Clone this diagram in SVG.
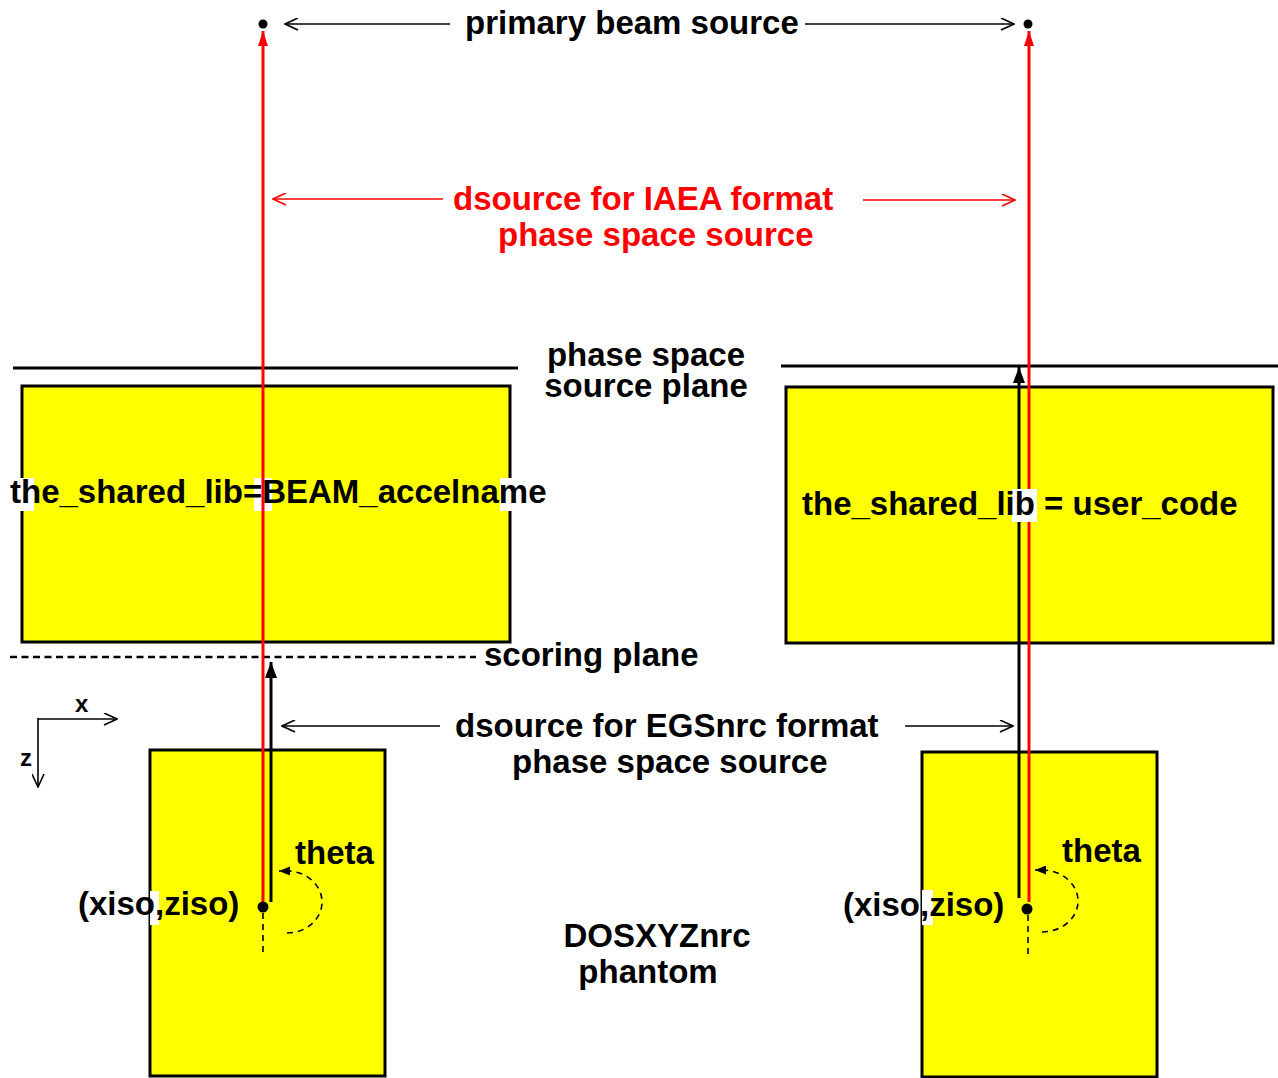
<svg xmlns="http://www.w3.org/2000/svg" width="1278" height="1078" viewBox="0 0 1278 1078">
<style>
  text { font-family: "Liberation Sans", Arial, Helvetica, sans-serif; font-weight: bold; font-size: 33px; fill: #000; }
  .red { fill: #ff0000; }
  .box { fill: #ffff00; stroke: #000; stroke-width: 3; }
  .plane { stroke: #000; stroke-width: 3; fill: none; }
  .thin { stroke: #000; stroke-width: 1.6; fill: none; }
  .thinred { stroke: #ff0000; stroke-width: 1.6; fill: none; }
  .beam { stroke: #ff0000; stroke-width: 3; fill: none; }
  .blk { stroke: #000; stroke-width: 3; fill: none; }
  .dash { stroke: #000; stroke-width: 1.6; fill: none; stroke-dasharray: 6 5; }
  .patch { fill: #fff; }
</style>
<defs>
  <marker id="openK" markerUnits="userSpaceOnUse" viewBox="0 0 15 13" refX="14" refY="6.5" markerWidth="15" markerHeight="13" orient="auto">
    <path d="M1,0.5 L14,6.5 L1,12.5" fill="none" stroke="#000" stroke-width="1.6"/>
  </marker>
  <marker id="openR" markerUnits="userSpaceOnUse" viewBox="0 0 15 13" refX="14" refY="6.5" markerWidth="15" markerHeight="13" orient="auto">
    <path d="M1,0.5 L14,6.5 L1,12.5" fill="none" stroke="#ff0000" stroke-width="1.6"/>
  </marker>
  <marker id="fillK" markerUnits="userSpaceOnUse" viewBox="0 0 16 12" refX="16" refY="6" markerWidth="16" markerHeight="12" orient="auto">
    <path d="M0,0 L16,6 L0,12 z" fill="#000"/>
  </marker>
  <marker id="fillR" markerUnits="userSpaceOnUse" viewBox="0 0 15 10" refX="15" refY="5" markerWidth="15" markerHeight="10" orient="auto">
    <path d="M0,0 L15,5 L0,10 z" fill="#ff0000"/>
  </marker>
  <marker id="fillS" markerUnits="userSpaceOnUse" viewBox="0 0 11 9" refX="11" refY="4.5" markerWidth="11" markerHeight="9" orient="auto">
    <path d="M0,0 L11,4.5 L0,9 z" fill="#000"/>
  </marker>
</defs>

<g id="planes">
  <line class="plane" x1="13" y1="368" x2="518" y2="368"/>
  <line class="plane" x1="781" y1="366" x2="1278" y2="366"/>
  <line x1="10" y1="657" x2="476" y2="657" stroke="#000" stroke-width="2.5" stroke-dasharray="7 4.5"/>
</g>

<g id="beam-left">
  <rect class="box" x="22" y="386" width="488" height="256"/>
  <rect class="patch" x="254" y="478" width="18" height="33"/>
</g>
<g id="beam-right">
  <rect class="box" x="786" y="387" width="487" height="256"/>
</g>
<g id="phantom-left">
  <rect class="box" x="150" y="750" width="235" height="326"/>
</g>
<g id="phantom-right">
  <rect class="box" x="922" y="752" width="235" height="325"/>
</g>

<g id="connectors">
  <line class="thin" x1="450" y1="24" x2="285" y2="24" marker-end="url(#openK)"/>
  <line class="thin" x1="805" y1="24" x2="1014" y2="24" marker-end="url(#openK)"/>
  <line class="beam" x1="263" y1="902" x2="263" y2="31" marker-end="url(#fillR)"/>
  <line class="beam" x1="1029" y1="902" x2="1029" y2="31" marker-end="url(#fillR)"/>
  <line class="thinred" x1="443" y1="199" x2="273" y2="199" marker-end="url(#openR)"/>
  <line class="thinred" x1="863" y1="200" x2="1015" y2="200" marker-end="url(#openR)"/>
  <line class="blk" x1="271" y1="902" x2="271" y2="662" marker-end="url(#fillK)"/>
  <line class="blk" x1="1019" y1="898" x2="1019" y2="367" marker-end="url(#fillK)"/>
  <line class="thin" x1="440" y1="726" x2="282" y2="726" marker-end="url(#openK)"/>
  <line class="thin" x1="905" y1="726" x2="1013" y2="726" marker-end="url(#openK)"/>
  <line class="thin" x1="38" y1="719" x2="117" y2="719" marker-end="url(#openK)"/>
  <line class="thin" x1="38" y1="718" x2="38" y2="787" marker-end="url(#openK)"/>
  <line class="dash" x1="263" y1="913" x2="263" y2="957"/>
  <line class="dash" x1="1028" y1="915" x2="1028" y2="956"/>
  <path class="dash" d="M287,933 A35,31 0 0 0 322,902 A35,31 0 0 0 287,871 L279,871" marker-end="url(#fillS)"/>
  <path class="dash" d="M1042,932 A36,31 0 0 0 1078,901 A36,31 0 0 0 1042,870 L1035,870" marker-end="url(#fillS)"/>
</g>

<g id="points">
  <circle cx="263" cy="24" r="4.5" fill="#000"/>
  <circle cx="1028" cy="24" r="4.5" fill="#000"/>
  <circle cx="263" cy="907" r="5.5" fill="#000"/>
  <circle cx="1027" cy="909" r="5.5" fill="#000"/>
</g>

<g id="labels">
  <text x="465" y="34">primary beam source</text>
  <text class="red" x="453" y="210">dsource for IAEA format</text>
  <text class="red" x="498" y="246">phase space source</text>
  <text x="646" y="366" text-anchor="middle">phase space</text>
  <text x="646" y="397" text-anchor="middle">source plane</text>
  <rect class="patch" x="20" y="478" width="14" height="33"/>
  <rect class="patch" x="500" y="478" width="13" height="33"/>
  <text x="10" y="503">the_shared_lib=BEAM_accelname</text>
  <rect class="patch" x="1012" y="489" width="25" height="33"/>
  <text x="802" y="515">the_shared_lib = user_code</text>
  <text x="484" y="666">scoring plane</text>
  <text x="455" y="737">dsource for EGSnrc format</text>
  <text x="512" y="773">phase space source</text>
  <text x="75" y="712" style="font-size:24px">x</text>
  <text x="20" y="766" style="font-size:24px">z</text>
  <text x="295" y="864">theta</text>
  <text x="1062" y="862">theta</text>
  <rect class="patch" x="150" y="891" width="9" height="34"/>
  <text x="78" y="915">(xiso,ziso)</text>
  <rect class="patch" x="922" y="890" width="11" height="35"/>
  <text x="843" y="916">(xiso,ziso)</text>
  <text x="657" y="947" text-anchor="middle">DOSXYZnrc</text>
  <text x="648" y="983" text-anchor="middle">phantom</text>
</g>
</svg>
